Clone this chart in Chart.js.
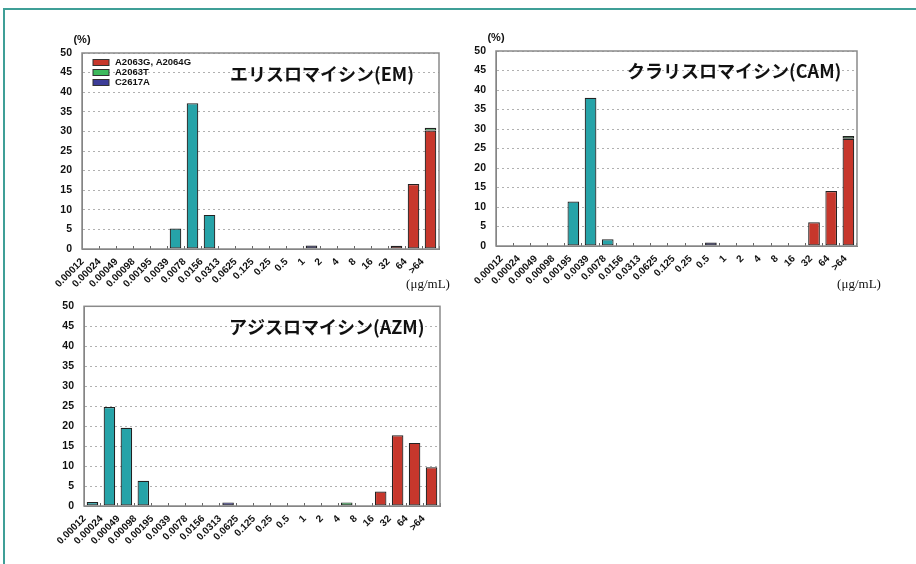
<!DOCTYPE html>
<html>
<head>
<meta charset="utf-8">
<script src="https://cdn.jsdelivr.net/npm/chart.js@4.4.1/dist/chart.umd.min.js"></script>
<style>
  body { margin: 0; background: #fff; width: 916px; height: 564px; overflow: hidden; position: relative; }
  #frame { position: absolute; left: 3px; top: 8px; width: 1000px; height: 1000px; border: 2px solid #3f9f97; }
  canvas { position: absolute; }
</style>
</head>
<body>
<div id="frame"></div>
<canvas id="emChart" width="440" height="275" style="left:30px;top:25px"></canvas>
<canvas id="camChart" width="456" height="275" style="left:460px;top:25px"></canvas>
<canvas id="azmChart" width="440" height="270" style="left:30px;top:290px"></canvas>
<script>
// MIC (µg/mL) categories
const micLabels = ['0.00012', '0.00024', '0.00049', '0.00098', '0.00195', '0.0039', '0.0078', '0.0156',
    '0.0313', '0.0625', '0.125', '0.25', '0.5', '1', '2', '4', '8', '16', '32', '64', '>64'];
const yTicks = [0, 5, 10, 15, 20, 25, 30, 35, 40, 45, 50];
const mutLabels = ['A2063G, A2064G', 'A2063T', 'C2617A'];

// エリスロマイシン (EM)
const emWild  = [0, 0, 0, 0, 0, 5.2, 37.2, 8.7, 0, 0, 0, 0, 0, 0, 0, 0, 0, 0, 0, 0, 0];
const emRed   = [0, 0, 0, 0, 0, 0, 0, 0, 0, 0, 0, 0, 0, 0, 0, 0, 0, 0, 0.8, 16.6, 30.2];
const emGreen = [0, 0, 0, 0, 0, 0, 0, 0, 0, 0, 0, 0, 0, 0, 0, 0, 0, 0, 0, 0, 0.7];
const emBlue  = [0, 0, 0, 0, 0, 0, 0, 0, 0, 0, 0, 0, 0, 0.9, 0, 0, 0, 0, 0, 0, 0];

// クラリスロマイシン (CAM)
const camWild  = [0, 0, 0, 0, 11.4, 38.0, 1.7, 0, 0, 0, 0, 0, 0, 0, 0, 0, 0, 0, 0, 0, 0];
const camRed   = [0, 0, 0, 0, 0, 0, 0, 0, 0, 0, 0, 0, 0, 0, 0, 0, 0, 0, 6.1, 14.1, 27.5];
const camGreen = [0, 0, 0, 0, 0, 0, 0, 0, 0, 0, 0, 0, 0, 0, 0, 0, 0, 0, 0, 0, 0.7];
const camBlue  = [0, 0, 0, 0, 0, 0, 0, 0, 0, 0, 0, 0, 0.9, 0, 0, 0, 0, 0, 0, 0, 0];

// アジスロマイシン (AZM)
const azmWild  = [1.0, 24.8, 19.6, 6.3, 0, 0, 0, 0, 0, 0, 0, 0, 0, 0, 0, 0, 0, 0, 0, 0, 0];
const azmRed   = [0, 0, 0, 0, 0, 0, 0, 0, 0, 0, 0, 0, 0, 0, 0, 0, 0, 3.6, 17.7, 15.8, 9.7];
const azmGreen = [0, 0, 0, 0, 0, 0, 0, 0, 0, 0, 0, 0, 0, 0, 0, 0.9, 0, 0, 0, 0, 0];
const azmBlue  = [0, 0, 0, 0, 0, 0, 0, 0, 0.9, 0, 0, 0, 0, 0, 0, 0, 0, 0, 0, 0, 0];

const colWild = '#26a3a8', colRed = '#c7372c', colGreen = '#3dba5c', colBlue = '#3d3d98';
const sans = '"Liberation Sans", Arial, sans-serif';

// frame, title, units and legend drawn on top of each chart
const extrasPlugin = {
    id: 'extras',
    afterDraw(chart, args, o) {
        const ctx = chart.ctx, a = chart.chartArea;
        ctx.save();
        ctx.strokeStyle = '#8a8a8a';
        ctx.lineWidth = 1.5;
        ctx.strokeRect(a.left, a.top, a.right - a.left, a.bottom - a.top);

        ctx.fillStyle = '#111';
        ctx.textBaseline = 'middle';
        ctx.textAlign = 'left';
        ctx.font = 'bold 18px "Noto Sans CJK JP", sans-serif';
        ctx.fillText(o.title, o.titleX, o.titleY);

        if (o.pct) {
            ctx.textAlign = 'center';
            ctx.font = 'bold 11px ' + sans;
            ctx.fillText('(%)', a.left, a.top - 13);
        }
        if (o.unitX) {
            ctx.textAlign = 'center';
            ctx.font = '13px "Liberation Serif", "Times New Roman", serif';
            ctx.fillText('(μg/mL)', o.unitX, o.unitY);
        }
        if (o.legend) {
            const cols = [colRed, colGreen, colBlue];
            ctx.textAlign = 'left';
            ctx.font = 'bold 9.5px ' + sans;
            mutLabels.forEach((lab, i) => {
                const y = a.top + 9.5 + i * 10;
                ctx.fillStyle = cols[i];
                ctx.fillRect(a.left + 11, y - 3, 16, 6);
                ctx.strokeStyle = '#333';
                ctx.lineWidth = 1;
                ctx.strokeRect(a.left + 11, y - 3, 16, 6);
                ctx.fillStyle = '#111';
                ctx.fillText(lab, a.left + 33, y);
            });
        }
        ctx.restore();
    }
};

function makeChart(id, wild, red, green, blue, box, extras) {
    const ds = (label, data, color) => ({
        label: label, data: data, backgroundColor: color,
        borderColor: '#222', borderWidth: 1.2, borderSkipped: false,
        categoryPercentage: 1, barPercentage: 0.68
    });
    return new Chart(document.getElementById(id), {
        type: 'bar',
        data: {
            labels: micLabels,
            datasets: [
                ds('wild', wild, colWild),
                ds(mutLabels[0], red, colRed),
                ds(mutLabels[1], green, colGreen),
                ds(mutLabels[2], blue, colBlue)
            ]
        },
        options: {
            responsive: false,
            animation: false,
            devicePixelRatio: 1,
            layout: { padding: { top: box.top, right: box.right, left: 0, bottom: 0 } },
            plugins: { legend: { display: false }, tooltip: { enabled: false }, extras: extras },
            scales: {
                x: {
                    stacked: true,
                    grid: { drawOnChartArea: false, tickLength: -3, color: '#666' },
                    border: { color: '#777' },
                    ticks: {
                        autoSkip: false, minRotation: 45, maxRotation: 45,
                        labelOffset: box.labelOffset, padding: 10,
                        color: '#111', font: { family: sans, size: 10, weight: 'bold' }
                    },
                    afterFit: s => { s.height = box.xh; s.paddingLeft = 0; s.paddingRight = 0; }
                },
                y: {
                    stacked: true, min: 0, max: 50,
                    afterBuildTicks: s => { s.ticks = yTicks.map(v => ({ value: v })); },
                    grid: { drawTicks: false, color: '#b0b0b0' },
                    border: { color: '#777', dash: [2, 3] },
                    ticks: { padding: 10, color: '#111', font: { family: sans, size: 10.5, weight: 'bold' } },
                    afterFit: s => { s.width = box.yw; }
                }
            }
        },
        plugins: [extrasPlugin]
    });
}

makeChart('emChart', emWild, emRed, emGreen, emBlue,
    { top: 28, right: 31, xh: 51, yw: 52, labelOffset: -8 },
    { title: 'エリスロマイシン(EM)', titleX: 200, titleY: 49, pct: true, unitX: 398, unitY: 260, legend: true });

makeChart('camChart', camWild, camRed, camGreen, camBlue,
    { top: 26, right: 59, xh: 54, yw: 36, labelOffset: -3 },
    { title: 'クラリスロマイシン(CAM)', titleX: 167, titleY: 46.5, pct: true, unitX: 399, unitY: 260, legend: false });

makeChart('azmChart', azmWild, azmRed, azmGreen, azmBlue,
    { top: 16, right: 30, xh: 54, yw: 54, labelOffset: -8 },
    { title: 'アジスロマイシン(AZM)', titleX: 199, titleY: 37, pct: false, legend: false });
</script>
</body>
</html>
